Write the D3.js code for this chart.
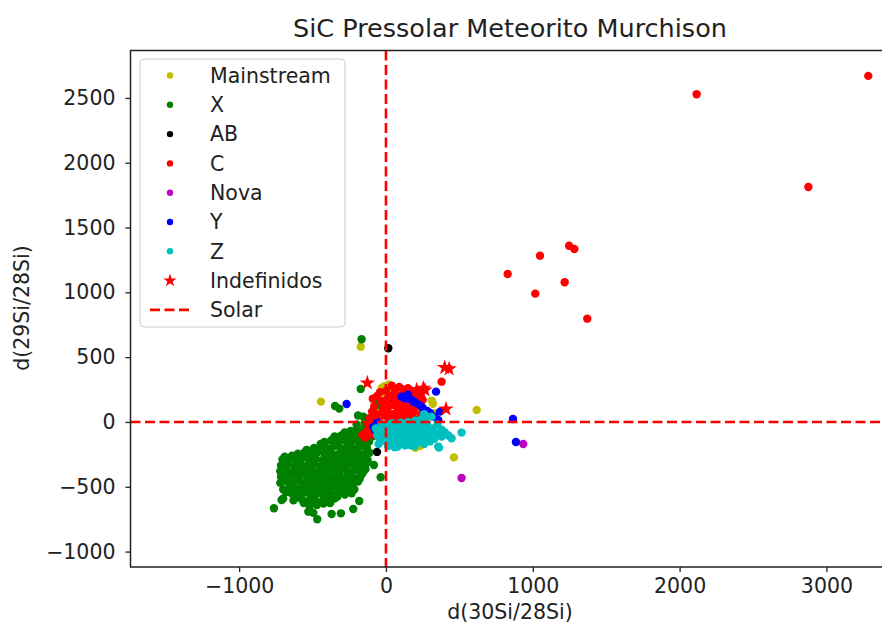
<!DOCTYPE html>
<html><head><meta charset="utf-8">
<script src="https://cdn.jsdelivr.net/npm/d3@7"></script>
<style>body{margin:0;background:#fff}svg{display:block;font-family:"DejaVu Sans",sans-serif}</style>
</head><body><svg id="c" width="882" height="627"></svg>
<script>
const categories = ["Mainstream","X","AB","C","Nova","Y","Z","Indefinidos"];
const seriesColors = ["#bfbf00","#008000","#000000","#ff0000","#bf00bf","#0000ff","#00bfbf","#ff0000"];
const xTicks = [-1000,0,1000,2000,3000];
const yTicks = [-1000,-500,0,500,1000,1500,2000,2500];
const titleText = "SiC Pressolar Meteorito Murchison";
const xLabel = "d(30Si/28Si)";
const yLabel = "d(29Si/28Si)";

const mainstream = [[-443,157],[-172,581],[311,165],[320,140],[618,93],[463,-273],[232,-185],[-86,170],[5,234],[39,260],[-29,262],[61,208],[-75,147],[329,67],[-131,28],[0,200],[100,220],[150,230],[-50,100],[200,50],[50,-50],[100,-100],[150,0],[-100,-60],[250,100],[200,-200],[20,290],[-10,275]];

const groupX = [
[-280,-80],[-240,-70],[-200,-65],[-175,-58],
[-350,-112],[-305,-105],[-260,-115],[-215,-100],[-170,-110],[-130,-118],
[-420,-155],[-375,-145],[-330,-158],[-285,-142],[-240,-155],[-195,-148],[-150,-160],[-115,-150],
[-490,-200],[-445,-190],[-400,-205],[-355,-188],[-310,-200],[-265,-192],[-220,-205],[-175,-190],[-130,-198],
[-690,-268],[-600,-245],[-555,-235],[-510,-248],[-465,-232],[-420,-245],[-375,-238],[-330,-250],[-285,-235],[-240,-245],[-195,-232],[-150,-248],[-112,-238],
[-705,-290],[-660,-280],[-615,-295],[-570,-275],[-525,-290],[-480,-280],[-435,-295],[-390,-285],[-345,-280],[-300,-290],[-255,-275],[-210,-290],[-165,-280],[-125,-295],
[-715,-335],[-670,-325],[-625,-340],[-580,-320],[-535,-335],[-490,-325],[-445,-340],[-400,-330],[-355,-320],[-310,-335],[-265,-325],[-220,-340],[-175,-330],[-135,-320],
[-720,-380],[-675,-370],[-630,-385],[-585,-365],[-540,-380],[-495,-370],[-450,-385],[-405,-375],[-360,-365],[-315,-380],[-270,-370],[-225,-385],[-180,-375],[-140,-365],
[-715,-425],[-670,-415],[-625,-430],[-580,-410],[-535,-425],[-490,-415],[-445,-430],[-400,-420],[-355,-410],[-310,-425],[-265,-415],[-220,-430],[-175,-420],
[-720,-470],[-675,-460],[-630,-475],[-585,-455],[-540,-470],[-495,-460],[-450,-475],[-405,-465],[-360,-455],[-315,-470],[-270,-460],[-225,-475],[-190,-460],
[-700,-520],[-655,-505],[-610,-515],[-565,-500],[-520,-515],[-475,-505],[-430,-520],[-385,-510],[-340,-500],[-295,-515],[-250,-505],[-215,-520],
[-700,-590],[-640,-555],[-595,-560],[-550,-545],[-505,-560],[-460,-550],[-415,-565],[-370,-555],[-325,-545],[-280,-560],
[-630,-605],[-575,-595],[-530,-610],[-485,-600],[-440,-615],[-395,-600],[-350,-590],
[-520,-650],[-470,-640],[-425,-630],[-380,-625],
[-640,-260],[-540,-215],[-445,-170],[-360,-130],[-690,-310],[-600,-310],[-510,-305],[-420,-310],[-330,-300],[-240,-310],[-150,-305],
[-700,-400],[-610,-400],[-520,-400],[-430,-400],[-340,-395],[-250,-400],[-160,-395],
[-700,-445],[-610,-445],[-520,-445],[-430,-445],[-340,-440],[-250,-445],[-180,-440],
[-680,-540],[-590,-535],[-500,-535],[-410,-540],[-320,-530],[-250,-535],
[-600,-580],[-510,-585],[-420,-585],[-330,-575],[-500,-625],[-560,-625],
[-763,-666],[-711,-602],[-468,-751],[-529,-692],[-495,-700],[-370,-710],[-307,-705],[-223,-671],[-182,-610],[-234,-550],[-82,-332],[-36,-427],
[-166,638],[-172,255],[-52,144],[-347,123],[-318,103],[-154,41],[-63,131],[-190,50],[-145,-5],[-120,-30],[-100,-70],[-166,-62],[-90,-110],[-130,-139],[-200,-20]
];

const groupAB = [[16,569],[-61,-231],[27,157],[84,144]];

const groupC = [[3285,2670],[2116,2528],[2877,1813],[1247,1360],[1283,1335],[1049,1283],[829,1142],[1217,1078],[1017,990],[1371,797],
[-160,-100],[-130,-70],[-120,-20],[-110,30],[-95,80],[-80,120],[-60,60],[-50,10],[-40,-30],[-20,100],[-10,50],[0,150],[10,90],[20,30],[30,200],[40,130],[50,60],[60,230],[70,170],[80,100],[90,40],[100,200],[110,140],[120,70],[130,20],[140,180],[150,110],[160,50],[170,220],[180,150],[190,80],[200,20],[210,190],[220,120],[230,230],[240,60],[250,170],[-90,180],[-60,200],[0,240],[30,10],[120,250],[180,240],[379,311],[60,-20],[-140,-120],
[40,280],[90,270],[150,260],[-40,230],[10,180],[60,140],[130,160],[170,100],[90,150],[-70,-50],[-90,-100],[-100,-10],[-30,160],[-80,30],[20,60],[70,20],[110,100],[200,120],[230,180]];

const groupNova = [[935,-170],[515,-432]];

const groupY = [[-268,139],[341,234],[865,23],[885,-154],[107,195],[129,183],[140,185],[175,170],[186,157],[200,150],[230,130],[266,80],[281,85],[300,70],[330,40],[356,15],[368,80],[-86,-36],[-75,-60],[-41,-62],[-30,-20],[-60,-5],[150,210],[250,110]];

const groupZ = [[-70,-50],[-60,-100],[-40,-140],[-30,-20],[0,-30],[10,-80],[20,-130],[30,-170],[40,-10],[50,-60],[60,-110],[70,-150],[80,-190],[90,-30],[100,-80],[110,-130],[120,-170],[130,-20],[140,-60],[150,-110],[160,-150],[170,-40],[180,-90],[190,-130],[200,-170],[210,-20],[220,-70],[230,-110],[240,-150],[250,-40],[260,-90],[270,-130],[280,-20],[290,-70],[300,-110],[320,-50],[340,-90],[356,-190],[379,-113],[447,-126],[515,-82],[425,-105],[361,-198],[240,20],[280,40],[310,41],[260,60],[200,10],[150,0],[100,-5],[-20,-60],[-50,-170],[15,-185],[60,-195],[130,-180],[195,-185],[380,-60],[400,-80],
[30,-90],[70,-40],[110,-50],[160,-80],[190,-60],[230,-140],[260,-170],[120,-100],[80,-120],[40,-50],[-10,-110],[0,-150],[170,-180],[300,-150],[330,-130],[350,-20],[210,-110],[90,-160],[140,-140],[250,-10]];

const groupInd = [[-127,301],[209,247],[243,221],[254,260],[266,247],[400,420],[430,410],[409,100]];

const seriesData = [mainstream, groupX, groupAB, groupC, groupNova, groupY, groupZ, groupInd];

const svg = d3.select("#c");
const L = 130.5, R = 890, T = 50.5, B = 567;
const x = d3.scaleLinear().domain([-1740, 3433]).range([L, R]);
const y = d3.scaleLinear().domain([-1119, 2866]).range([B, T]);

svg.append("defs").append("clipPath").attr("id","clip").append("rect")
  .attr("x",L).attr("y",T).attr("width",R-L).attr("height",B-T);

const plot = svg.append("g").attr("clip-path","url(#clip)");
seriesData.forEach((data,i)=>{
  const g = plot.append("g");
  if (i === 7) {
    g.selectAll("path").data(data).join("path")
      .attr("d", d3.symbol(d3.symbolStar, 75)())
      .attr("transform", d=>`translate(${x(d[0])},${y(d[1])})`)
      .attr("fill", seriesColors[i]);
  } else {
    g.selectAll("circle").data(data).join("circle")
      .attr("cx", d=>x(d[0])).attr("cy", d=>y(d[1])).attr("r", 4.2)
      .attr("fill", seriesColors[i]);
  }
});
// Solar lines
plot.append("line").attr("x1",x(0)).attr("x2",x(0)).attr("y1",T).attr("y2",B)
  .attr("stroke","#ff0000").attr("stroke-width",2.6).attr("stroke-dasharray","10,4.5");
plot.append("line").attr("x1",L).attr("x2",R).attr("y1",y(0)).attr("y2",y(0))
  .attr("stroke","#ff0000").attr("stroke-width",2.6).attr("stroke-dasharray","10,4.5");

const fmt = d => (d<0 ? "\u2212" : "") + Math.abs(d);
const xa = svg.append("g").attr("transform",`translate(0,${B})`)
  .call(d3.axisBottom(x).tickValues(xTicks).tickFormat(fmt).tickSize(5).tickPadding(6));
const ya = svg.append("g").attr("transform",`translate(${L},0)`)
  .call(d3.axisLeft(y).tickValues(yTicks).tickFormat(fmt).tickSize(5).tickPadding(10));
[xa,ya].forEach(a=>{
  a.select(".domain").remove();
  a.selectAll("text").attr("font-family","DejaVu Sans").attr("font-size",20.5).attr("fill","#222");
  a.selectAll("line").attr("stroke","#222").attr("stroke-width",1.3);
});
// spines
svg.append("path").attr("d",`M${R},${T}H${L}V${B}H${R}`).attr("fill","none").attr("stroke","#222").attr("stroke-width",1.5);

svg.append("text").attr("x",510).attr("y",37).attr("text-anchor","middle")
  .attr("font-size",25.5).attr("fill","#222").text(titleText);
svg.append("text").attr("x",510).attr("y",619).attr("text-anchor","middle")
  .attr("font-size",20.5).attr("fill","#222").text(xLabel);
svg.append("text").attr("transform","translate(29,308) rotate(-90)").attr("text-anchor","middle")
  .attr("font-size",20.5).attr("fill","#222").text(yLabel);

// legend
const lg = svg.append("g");
lg.append("rect").attr("x",140).attr("y",59).attr("width",205).attr("height",268).attr("rx",4)
  .attr("fill","#fff").attr("fill-opacity",0.8).attr("stroke","#cccccc");
const legendItems = categories.concat(["Solar"]);
legendItems.forEach((name,i)=>{
  const cy = 75.5 + i*29.3;
  if (i < 7) {
    lg.append("circle").attr("cx",170).attr("cy",cy).attr("r",3.2).attr("fill",seriesColors[i]);
  } else if (i === 7) {
    lg.append("path").attr("d", d3.symbol(d3.symbolStar, 55)()).attr("transform",`translate(170,${cy})`).attr("fill",seriesColors[i]);
  } else {
    lg.append("line").attr("x1",150).attr("x2",192).attr("y1",cy).attr("y2",cy)
      .attr("stroke","#ff0000").attr("stroke-width",2.6).attr("stroke-dasharray","10,4.5");
  }
  lg.append("text").attr("x",210).attr("y",cy).attr("dy","0.36em").attr("font-size",20.5).attr("fill","#222").text(name);
});
</script></body></html>
